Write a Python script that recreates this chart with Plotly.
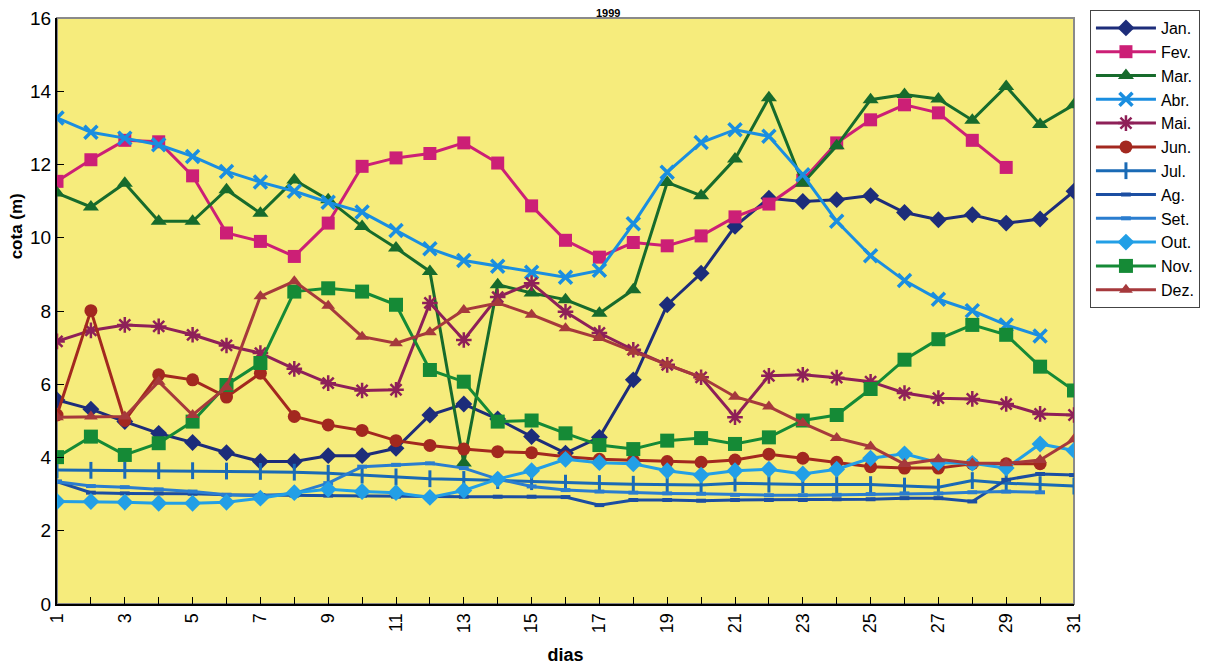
import plotly.graph_objects as go

days = list(range(1, 32))
tick_labels = [str(d) if d % 2 == 1 else "" for d in days]
title_text = "1999"
y_title = "cota (m)"
x_title = "dias"

jan = [5.57, 5.32, 4.98, 4.66, 4.41, 4.13, 3.89, 3.89, 4.05, 4.05, 4.25, 5.16, 5.46, 5.05, 4.57, 4.12, 4.55, 6.12, 8.17, 9.03, 10.31, 11.08, 10.99, 11.04, 11.15, 10.69, 10.49, 10.63, 10.40, 10.51, 11.27]
fev = [11.54, 12.13, 12.66, 12.62, 11.69, 10.13, 9.90, 9.49, 10.40, 11.95, 12.18, 12.30, 12.59, 12.04, 10.87, 9.93, 9.47, 9.87, 9.78, 10.05, 10.57, 10.92, 11.57, 12.59, 13.22, 13.63, 13.41, 12.66, 11.92]
mar = [11.22, 10.84, 11.49, 10.45, 10.45, 11.31, 10.67, 11.58, 11.04, 10.31, 9.72, 9.08, 3.85, 8.72, 8.49, 8.31, 7.94, 8.58, 11.51, 11.15, 12.15, 13.82, 11.49, 12.51, 13.77, 13.91, 13.79, 13.21, 14.13, 13.09, 13.63]
abr = [13.27, 12.88, 12.72, 12.54, 12.22, 11.81, 11.52, 11.27, 10.97, 10.70, 10.20, 9.70, 9.38, 9.22, 9.06, 8.92, 9.11, 10.38, 11.79, 12.60, 12.95, 12.77, 11.72, 10.45, 9.51, 8.83, 8.32, 8.01, 7.62, 7.32]
mai = [7.17, 7.47, 7.62, 7.58, 7.35, 7.06, 6.85, 6.42, 6.03, 5.83, 5.85, 8.22, 7.21, 8.38, 8.76, 7.98, 7.40, 6.94, 6.53, 6.19, 5.10, 6.23, 6.26, 6.18, 6.07, 5.76, 5.62, 5.60, 5.46, 5.19, 5.16]
jun = [5.16, 8.01, 5.01, 6.26, 6.12, 5.65, 6.30, 5.12, 4.89, 4.74, 4.46, 4.33, 4.23, 4.16, 4.13, 4.02, 3.95, 3.92, 3.89, 3.87, 3.93, 4.09, 3.98, 3.87, 3.75, 3.71, 3.71, 3.83, 3.83, 3.83]
jul = [3.66, 3.65, 3.65, 3.64, 3.64, 3.63, 3.62, 3.60, 3.57, 3.52, 3.47, 3.42, 3.40, 3.37, 3.34, 3.30, 3.29, 3.27, 3.26, 3.25, 3.30, 3.27, 3.26, 3.26, 3.26, 3.22, 3.19, 3.37, 3.30, 3.26, 3.22]
ago = [3.34, 3.04, 3.02, 3.02, 3.01, 2.98, 2.97, 2.96, 2.96, 2.96, 2.93, 2.93, 2.93, 2.93, 2.93, 2.92, 2.70, 2.84, 2.84, 2.82, 2.84, 2.84, 2.84, 2.86, 2.86, 2.89, 2.89, 2.80, 3.39, 3.55, 3.52]
setb = [3.34, 3.22, 3.19, 3.13, 3.07, 2.98, 2.95, 3.02, 3.30, 3.75, 3.80, 3.84, 3.71, 3.41, 3.21, 3.11, 3.07, 3.04, 3.02, 3.01, 2.98, 2.97, 2.97, 2.98, 3.00, 3.02, 3.02, 3.05, 3.07, 3.05]
out = [2.80, 2.80, 2.78, 2.75, 2.75, 2.78, 2.89, 3.04, 3.13, 3.07, 3.04, 2.91, 3.10, 3.41, 3.64, 3.95, 3.86, 3.83, 3.64, 3.52, 3.64, 3.68, 3.55, 3.68, 3.98, 4.10, 3.86, 3.84, 3.71, 4.37, 4.19]
nov = [4.01, 4.57, 4.07, 4.39, 4.98, 5.98, 6.58, 8.53, 8.62, 8.53, 8.17, 6.39, 6.07, 4.98, 5.01, 4.66, 4.34, 4.23, 4.46, 4.53, 4.37, 4.55, 5.01, 5.16, 5.87, 6.67, 7.23, 7.62, 7.35, 6.48, 5.83]
dez = [5.10, 5.12, 5.12, 6.07, 5.16, 5.92, 8.40, 8.81, 8.14, 7.30, 7.12, 7.42, 8.03, 8.22, 7.90, 7.53, 7.26, 6.89, 6.53, 6.19, 5.66, 5.39, 4.94, 4.53, 4.30, 3.82, 3.95, 3.84, 3.84, 3.93, 4.50]

series = [
    ("Jan.", jan, "#1d2d7a", "diamond", 13, 0),
    ("Fev.", fev, "#cc1f76", "square", 13, 0),
    ("Mar.", mar, "#176b2c", "triangle-up", 14, 0),
    ("Abr.", abr, "#1a8ee0", "x-thin-open", 13, 3.5),
    ("Mai.", mai, "#8e2058", "asterisk-open", 13, 2.5),
    ("Jun.", jun, "#a3281f", "circle", 13, 0),
    ("Jul.", jul, "#1a6ab5", "line-ns-open", 12, 3),
    ("Ag.", ago, "#1b4ea2", "line-ew-open", 7, 4),
    ("Set.", setb, "#2a7dcf", "line-ew-open", 7, 4),
    ("Out.", out, "#229fe6", "diamond", 13, 0),
    ("Nov.", nov, "#158a36", "square", 14, 0),
    ("Dez.", dez, "#a6393c", "triangle-up", 12, 0),
]

fig = go.Figure()
for name, vals, color, sym, size, lw in series:
    marker = dict(symbol=sym, size=size, color=color)
    if lw:
        marker["line"] = dict(color=color, width=lw)
    fig.add_trace(go.Scatter(
        x=days[:len(vals)], y=vals, name=name, mode="lines+markers",
        line=dict(color=color, width=3), marker=marker,
    ))

fig.add_shape(type="rect", xref="paper", yref="paper", x0=0, x1=1, y0=0, y1=1,
              line=dict(color="#8a8a8a", width=2), layer="below")

# title: small, squeezed above the plot area (it is cut at the top in the reference)
fig.add_annotation(text="<b>" + title_text + "</b>", xref="paper", yref="paper",
                   x=0.542, y=0.9952, xanchor="center", yanchor="bottom",
                   showarrow=False, font=dict(size=11, color="black"))

# y axis title placed as in the reference
fig.add_annotation(text="<b>" + y_title + "</b>", xref="paper", yref="paper",
                   x=-0.040, y=0.645, xanchor="center", yanchor="middle",
                   textangle=-90, showarrow=False, font=dict(size=17, color="black"))

fig.update_layout(
    width=1212, height=668,
    margin=dict(l=49, r=146, t=10, b=72, autoexpand=False),
    paper_bgcolor="white",
    plot_bgcolor="#f6ec7c",
    font=dict(family="Liberation Sans, Arial, sans-serif", size=17, color="black"),
    showlegend=True,
    legend=dict(xref="container", yref="container", x=0.8927, y=0.997,
                xanchor="left", yanchor="top",
                bgcolor="white", bordercolor="#444444", borderwidth=1,
                font=dict(size=16), tracegroupgap=0, itemwidth=60),
    xaxis=dict(
        range=[1, 31], tickvals=days, ticktext=tick_labels, tickangle=-90,
        showgrid=False, zeroline=False, showline=True, linecolor="black", linewidth=2,
        ticks="inside", ticklen=7, tickcolor="black", tickfont=dict(size=18),
        automargin=False, ticklabeloverflow="allow",
        title=dict(text="<b>" + x_title + "</b>", font=dict(size=18), standoff=16),
    ),
    yaxis=dict(
        range=[0, 16], dtick=2,
        showgrid=False, zeroline=False, showline=True, linecolor="black", linewidth=2,
        ticks="inside", ticklen=7, tickcolor="black", tickfont=dict(size=19),
        automargin=False, ticklabeloverflow="allow",
    ),
)

fig.write_html("out.html")
